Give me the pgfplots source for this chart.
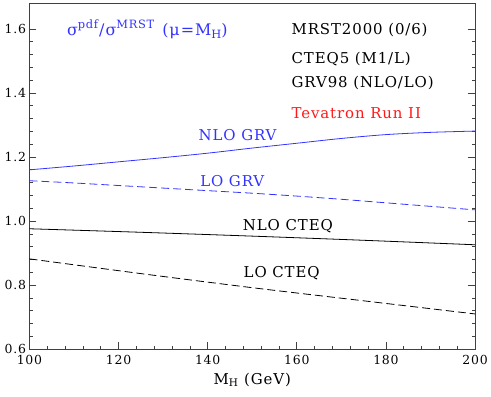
\documentclass[border=0pt]{standalone}
\usepackage{fontspec}
\setmainfont{DejaVu Serif}[LetterSpace=6]
\usepackage{pgfplots}
\pgfplotsset{compat=1.18}
\definecolor{pblue}{rgb}{0.2,0.2,1}
\definecolor{pred}{rgb}{1,0.1,0.1}
\begin{document}
\begin{tikzpicture}
\begin{axis}[
  scale only axis, width=446bp, height=346.2bp,
  xmin=100, xmax=200, ymin=0.6, ymax=1.68,
  xtick={100,120,...,200}, ytick={0.6,0.8,1.0,1.2,1.4,1.6},
  minor x tick num=4, minor y tick num=4,
  tick align=inside, xtick pos=left, ytick pos=both,
  major tick length=7bp, minor tick length=3.5bp,
  axis line style={line width=0.9bp, black!75},
  every tick/.style={black!75, line width=0.7bp},
  yticklabel style={/pgf/number format/fixed, /pgf/number format/fixed zerofill, /pgf/number format/precision=1},
  xticklabel style={yshift=-3bp},
  /pgf/number format/assume math mode=true,
  tick label style={font=\fontsize{12.5}{14}\selectfont},
  label style={font=\fontsize{15}{17}\selectfont},
  xlabel={M\textsubscript{H} (GeV)},
  xlabel style={yshift=-1bp},
  every axis plot/.append style={line width=0.8bp},
  clip=false
]
\addplot[pblue, smooth] coordinates {(100,1.160) (110,1.172) (120,1.185) (130,1.198) (140,1.212) (150,1.228) (160,1.243) (170,1.258) (180,1.270) (190,1.277) (200,1.281)};
\addplot[pblue, smooth, dash pattern=on 8bp off 4bp] coordinates {(100,1.126) (110,1.119) (120,1.111) (130,1.103) (140,1.095) (150,1.087) (160,1.078) (170,1.068) (180,1.057) (190,1.046) (200,1.035)};
\addplot[black, smooth] coordinates {(100,0.976) (125,0.965) (150,0.953) (175,0.940) (200,0.926)};
\addplot[black, smooth, dash pattern=on 8bp off 4bp] coordinates {(100,0.882) (125,0.836) (150,0.792) (175,0.751) (200,0.710)};
\node[pblue, font=\fontsize{15}{17}\selectfont] at (axis cs:146.7,1.267) {NLO GRV};
\node[pblue, font=\fontsize{15}{17}\selectfont] at (axis cs:145.5,1.126) {LO GRV};
\node[black, font=\fontsize{15}{17}\selectfont] at (axis cs:158,0.985) {NLO CTEQ};
\node[black, font=\fontsize{15}{17}\selectfont] at (axis cs:156.6,0.838) {LO CTEQ};
\node[pblue, anchor=base west, font=\fontsize{16}{18}\selectfont, inner sep=0pt] at (axis cs:108.4,1.580) {σ\raisebox{0.45em}{\fontsize{11.5}{12}\selectfont pdf}\kern1bp/σ\raisebox{0.45em}{\fontsize{11.5}{12}\selectfont MRST}\kern2bp\ (μ=M\raisebox{-0.2em}{\fontsize{11.5}{12}\selectfont H})};
\node[black, anchor=base west, font=\fontsize{15}{17}\selectfont, inner sep=0pt] at (axis cs:158.8,1.581) {MRST2000 (0/6)};
\node[black, anchor=base west, font=\fontsize{15}{17}\selectfont, inner sep=0pt] at (axis cs:158.8,1.493) {CTEQ5 (M1/L)};
\node[black, anchor=base west, font=\fontsize{15}{17}\selectfont, inner sep=0pt] at (axis cs:158.8,1.418) {GRV98 (NLO/LO)};
\node[pred, anchor=base west, font=\fontsize{15}{17}\selectfont, inner sep=0pt] at (axis cs:158.8,1.319) {Tevatron Run II};
\end{axis}
\path ([xshift=-29.5bp,yshift=-47.5bp]current axis.south west) rectangle ([xshift=15.5bp,yshift=3.3bp]current axis.north east);
\end{tikzpicture}
\end{document}
